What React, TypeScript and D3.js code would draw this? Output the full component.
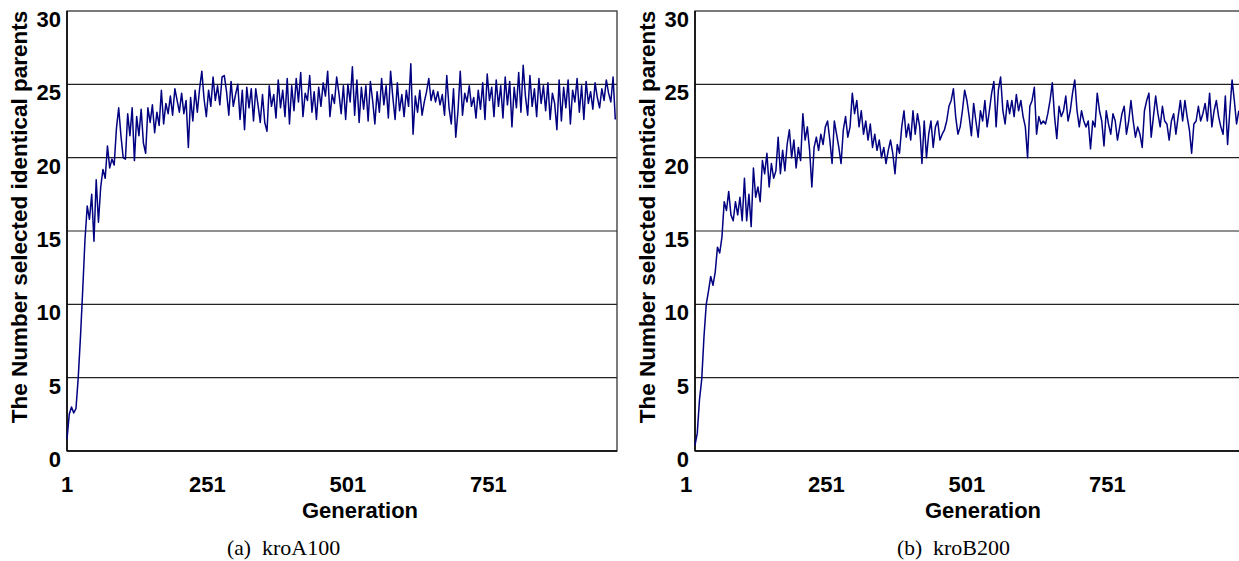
import { useEffect } from 'react';
import * as d3 from 'd3';

const kroA100 = [
  0.8, 2.5, 3.0, 2.6, 2.9, 5.0, 7.8, 11.0, 14.4, 16.7,
  15.8, 17.5, 14.3, 18.5, 15.6, 18.0, 19.2, 18.6, 20.8, 19.3,
  19.9, 19.5, 22.0, 23.4, 21.5, 20.0, 19.9, 23.0, 21.5, 23.4,
  19.8, 22.8, 21.5, 23.3, 21.0, 20.3, 23.4, 22.4, 23.6, 21.7,
  23.1, 22.2, 24.6, 22.3, 23.7, 23.0, 24.2, 22.9, 24.7, 23.9,
  23.1, 24.4, 23.0, 23.9, 20.7, 24.1, 22.5, 24.6, 23.1, 24.7,
  25.9, 24.0, 22.8, 24.6, 23.5, 25.5, 23.9, 24.9, 23.6, 25.5,
  25.6, 24.5, 22.9, 25.2, 23.5, 24.3, 25.0, 22.6, 24.6, 21.9,
  24.8, 23.4, 24.7, 22.5, 24.7, 23.6, 22.4, 24.3, 22.4, 21.8,
  24.9, 23.5, 24.3, 22.7, 25.3, 23.4, 24.6, 22.8, 25.4, 22.3,
  24.9, 23.2, 25.4, 23.8, 25.8, 22.8, 24.4, 23.9, 25.6, 23.1,
  24.5, 22.6, 24.8, 23.5, 25.1, 24.2, 25.9, 22.8, 24.3, 23.7,
  25.5, 24.4, 23.0, 24.9, 22.6, 25.0, 23.8, 26.2, 22.9, 25.3,
  22.4, 24.8, 23.3, 24.9, 22.5, 25.2, 23.9, 22.3, 24.5, 23.1,
  25.4, 23.6, 24.9, 22.7, 25.9, 24.1, 22.6, 25.1, 23.2, 24.3,
  22.8, 24.6, 23.5, 26.4, 21.6, 24.2, 23.1, 24.6, 22.9, 23.8,
  24.5, 25.4, 23.9, 24.6, 23.8, 24.5, 23.6, 24.3, 22.9, 25.6,
  23.4, 22.3, 24.7, 21.4, 23.2, 25.9, 22.9, 24.4, 23.8, 24.9,
  23.5, 24.1, 22.7, 24.6, 23.3, 25.1, 22.6, 25.7, 23.9, 24.8,
  22.8, 25.3, 23.5, 24.9, 22.7, 25.5, 23.6, 25.2, 22.1, 24.8,
  23.4, 25.8, 23.1, 26.3, 24.2, 22.9, 25.6, 23.5, 24.7, 22.8,
  25.4, 23.7, 24.9, 23.2, 25.1, 22.6, 24.4, 23.7, 21.9, 25.3,
  22.5, 24.8, 23.4, 25.3, 22.3, 24.6, 23.8, 25.4, 23.1, 24.9,
  22.6, 25.2, 23.7, 24.5, 23.3, 25.1, 24.1, 23.4, 24.7, 23.9,
  25.3, 24.4, 23.8, 25.5, 22.6,
];

const kroB200 = [
  0.4, 1.2, 3.5, 4.9, 7.8, 10.0, 10.9, 11.9, 11.3, 12.2,
  13.9, 13.5, 14.6, 17.0, 16.4, 17.7, 16.1, 15.7, 17.0, 16.1,
  17.3, 15.7, 18.6, 15.7, 17.5, 15.3, 19.3, 17.3, 18.0, 17.0,
  19.8, 18.9, 20.3, 18.0, 19.6, 18.6, 19.1, 21.4, 18.9, 20.5,
  19.1, 20.9, 21.9, 20.0, 21.2, 19.3, 20.7, 19.8, 23.0, 21.2,
  22.1, 20.5, 18.0, 20.7, 21.4, 20.5, 21.6, 20.9, 22.1, 22.5,
  21.2, 19.6, 22.5, 21.6, 20.7, 19.6, 21.9, 22.8, 21.4, 22.1,
  24.4, 23.0, 23.9, 22.1, 23.2, 21.6, 22.5, 21.2, 22.3, 20.7,
  21.6, 20.5, 21.2, 20.0, 20.7, 19.6, 20.5, 21.2, 20.3, 18.9,
  20.9, 20.3, 22.1, 23.2, 21.4, 22.3, 21.2, 23.2, 21.6, 23.0,
  22.1, 19.6, 22.5, 20.0, 21.6, 22.5, 20.7, 22.1, 22.5, 21.2,
  21.6, 21.9, 22.5, 23.5, 23.9, 24.7, 22.8, 21.6, 22.1, 23.2,
  24.6, 23.9, 22.8, 21.5, 23.7, 22.5, 21.4, 23.2, 22.5, 23.9,
  22.1, 23.2, 24.4, 25.2, 22.1, 24.6, 25.5, 23.2, 22.3, 23.9,
  23.0, 23.9, 22.8, 24.3, 23.2, 23.9, 22.8, 22.1, 20.0, 23.5,
  23.9, 24.8, 21.6, 22.8, 22.3, 22.5, 22.3, 23.0, 23.9, 25.1,
  22.8, 21.3, 23.5, 22.8, 23.2, 24.2, 22.5, 23.2, 24.4, 25.3,
  23.2, 22.1, 23.2, 22.5, 22.1, 22.5, 20.6, 22.5, 22.1, 24.4,
  23.2, 22.5, 20.8, 23.2, 22.3, 21.6, 23.0, 22.5, 21.2, 22.1,
  23.0, 23.5, 21.6, 22.5, 23.9, 22.5, 21.4, 22.1, 21.6, 20.7,
  23.2, 23.9, 24.4, 21.4, 22.8, 24.2, 23.0, 22.1, 23.5, 22.5,
  22.3, 21.2, 22.5, 23.0, 21.6, 22.8, 23.9, 22.5, 23.9, 22.8,
  21.9, 20.3, 22.3, 22.5, 23.5, 22.5, 23.0, 23.7, 22.5, 24.4,
  22.1, 23.2, 23.9, 22.8, 22.1, 21.6, 24.2, 20.9, 23.2, 25.3,
  23.9, 22.3, 23.2,
];

const genStep = 4;
const xTicks = [1, 251, 501, 751];
const yTicks = [0, 5, 10, 15, 20, 25, 30];
const gridValues = [5, 10, 15, 20, 25];

const W = 1239;
const H = 561;
const TOP = 11;
const PW = 550;
const PH = 440;
const SANS = '"Liberation Sans", Arial, sans-serif';
const SERIF = '"Liberation Serif", "Times New Roman", serif';

const panels = [
  { id: 'a', values: kroA100, left: 67, labelDx: 0, titleX: 360, capX: 227, capX2: 262, tag: '(a)', name: 'kroA100' },
  { id: 'b', values: kroB200, left: 695, labelDx: -9, titleX: 983, capX: 897, capX2: 933, tag: '(b)', name: 'kroB200' },
];

const Panel = ({ p }) => {
  const x = d3.scaleLinear().domain([1, 980]).range([p.left, p.left + PW]);
  const y = d3.scaleLinear().domain([0, 30]).range([TOP + PH, TOP]);
  const line = d3.line<number>()
    .x((_, i) => x(1 + i * genStep))
    .y(d => y(d));

  return (
    <g>
      {gridValues.map(v => (
        <line key={v} x1={p.left} x2={p.left + PW} y1={y(v)} y2={y(v)} stroke="#222" strokeWidth={1.2} />
      ))}
      <rect x={p.left} y={TOP} width={PW} height={PH} fill="none" stroke="#333" strokeWidth={1.3} />
      <line x1={p.left} x2={p.left} y1={TOP} y2={TOP + PH} stroke="#000" strokeWidth={1.5} />
      <line x1={p.left} x2={p.left + PW} y1={TOP + PH} y2={TOP + PH} stroke="#000" strokeWidth={1.5} />

      <path d={line(p.values) || ''} fill="none" stroke="#000080" strokeWidth={1.5} strokeLinejoin="round" />

      {yTicks.map(v => (
        <text key={v} x={p.left - 6} y={y(v) + 16} textAnchor="end"
          fontFamily={SANS} fontWeight="bold" fontSize={22} fill="#000">{v}</text>
      ))}
      {xTicks.map(v => (
        <text key={v} x={x(v) + p.labelDx} y={492} textAnchor="middle"
          fontFamily={SANS} fontWeight="bold" fontSize={22} fill="#000">{v}</text>
      ))}
      <text x={p.titleX} y={518} textAnchor="middle" fontFamily={SANS} fontWeight="bold" fontSize={22}>Generation</text>
      <text transform={`translate(${p.left - 40},217) rotate(-90)`} textAnchor="middle"
        fontFamily={SANS} fontWeight="bold" fontSize={22.5}>The Number selected identical parents</text>

      <text x={p.capX} y={555} fontFamily={SERIF} fontSize={21.5}>{p.tag}</text>
      <text x={p.capX2} y={555} fontFamily={SERIF} fontSize={22}>{p.name}</text>
    </g>
  );
};

export default function App() {
  useEffect(() => {
    document.body.style.margin = '0';
  }, []);

  return (
    <svg width={W} height={H} style={{ position: 'absolute', left: 0, top: 0, display: 'block' }}>
      <rect width={W} height={H} fill="#fff" />
      {panels.map(p => <Panel key={p.id} p={p} />)}
    </svg>
  );
}
